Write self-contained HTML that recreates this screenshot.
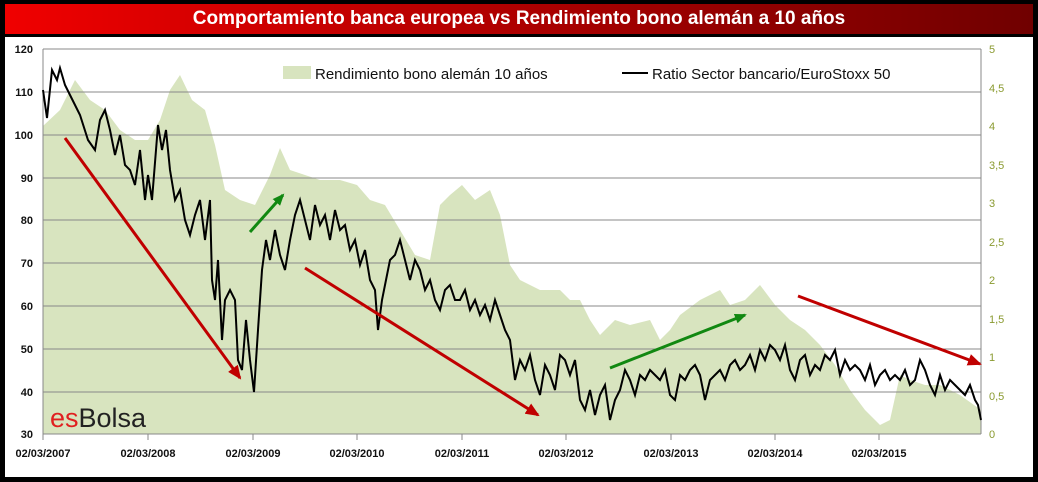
<!DOCTYPE html>
<html><head><meta charset="utf-8"><style>
body{margin:0;background:#000;}
#w{position:relative;width:1038px;height:482px;background:#000;overflow:hidden;font-family:"Liberation Sans",sans-serif;}
#t{position:absolute;left:5px;top:4px;width:1028px;height:30px;background:linear-gradient(90deg,#f00000,#a00000 60%,#700000);color:#fff;font-weight:bold;font-size:19px;text-align:center;line-height:30px;}
#c{position:absolute;left:5px;top:37px;width:1028px;height:440px;background:#fff;}
</style></head><body><div id="w">
<div id="t">Comportamiento banca europea vs Rendimiento bono alemán a 10 años</div>
<div id="c"></div>
<svg style="position:absolute;left:0;top:0" width="1038" height="482">
<defs><marker id="ar" markerWidth="8" markerHeight="8" refX="6" refY="4" orient="auto" markerUnits="userSpaceOnUse"><path d="M0,0 L12,4 L0,8z" fill="#c00000" transform="scale(1)"/></marker>
<marker id="ag" markerWidth="12" markerHeight="10" refX="10" refY="5" orient="auto" markerUnits="userSpaceOnUse"><path d="M0,0 L12,5 L0,10z" fill="#118811"/></marker>
<marker id="ar2" markerWidth="14" markerHeight="12" refX="12" refY="6" orient="auto" markerUnits="userSpaceOnUse"><path d="M0,0 L14,6 L0,12z" fill="#c00000"/></marker></defs>
<polygon fill="#d8e4bf" points="43,126 60,110 75,80 90,100 105,110 120,130 135,140 148,140 160,120 170,90 180,75 192,100 205,110 215,145 225,190 240,200 255,205 270,175 280,148 290,170 305,175 320,180 340,180 357,185 370,200 385,205 400,230 415,255 430,260 440,205 450,195 462,185 475,200 490,190 500,215 510,265 520,280 540,290 560,290 570,300 580,300 590,320 600,335 615,320 630,325 650,320 660,340 670,330 680,315 700,300 720,290 730,305 745,300 760,285 775,305 790,320 805,330 820,345 835,365 850,390 865,410 880,425 890,420 900,375 910,380 925,385 940,385 960,395 981,410 981,434 43,434"/>
<g stroke="#888" stroke-width="1">
<line x1="43" y1="49" x2="981" y2="49"/><line x1="43" y1="92" x2="981" y2="92"/><line x1="43" y1="135" x2="981" y2="135"/><line x1="43" y1="178" x2="981" y2="178"/><line x1="43" y1="220" x2="981" y2="220"/><line x1="43" y1="263" x2="981" y2="263"/><line x1="43" y1="306" x2="981" y2="306"/><line x1="43" y1="349" x2="981" y2="349"/><line x1="43" y1="392" x2="981" y2="392"/><line x1="43" y1="434" x2="981" y2="434"/>
<line x1="43" y1="49" x2="43" y2="434"/><line x1="981" y1="49" x2="981" y2="434"/>
</g>
<rect x="283" y="66" width="28" height="13" fill="#d8e4bf"/>
<text x="315" y="79" font-size="15" fill="#111">Rendimiento bono alemán 10 años</text>
<line x1="622" y1="73" x2="648" y2="73" stroke="#000" stroke-width="2"/>
<text x="652" y="79" font-size="15" fill="#111">Ratio Sector bancario/EuroStoxx 50</text>
<polyline fill="none" stroke="#000" stroke-width="2" points="43,90 47,118 52,70 57,80 60,68 65,85 70,95 75,105 80,115 88,140 95,150 100,120 105,110 110,130 115,155 120,135 125,165 130,170 135,185 140,150 145,200 148,175 152,200 158,125 162,150 166,130 170,170 175,200 180,190 185,220 190,235 195,215 200,200 205,240 210,200 212,280 215,300 218,260 222,340 225,300 230,290 235,300 238,360 242,370 246,320 250,360 254,392 258,330 262,270 266,240 270,260 275,230 280,255 285,270 290,240 295,215 300,200 305,220 310,240 315,205 320,225 325,215 330,240 335,210 340,230 345,225 350,250 355,240 360,265 365,250 370,280 375,290 378,330 382,300 386,280 390,260 395,255 400,240 405,260 410,280 415,260 420,270 425,290 430,280 435,300 440,310 445,290 450,285 455,300 460,300 465,290 470,310 475,300 480,315 485,305 490,320 495,300 500,315 505,330 510,340 515,380 520,360 525,370 530,355 535,380 540,395 545,365 550,375 555,390 560,355 565,360 570,375 575,360 580,400 585,410 590,390 595,415 600,395 605,385 610,420 615,400 620,390 625,370 630,380 635,395 640,375 645,380 650,370 655,375 660,380 665,370 670,395 675,400 680,375 685,380 690,370 695,365 700,375 705,400 710,380 715,375 720,370 725,380 730,365 735,360 740,370 745,365 750,355 755,370 760,350 765,360 770,345 775,350 780,360 785,345 790,370 795,380 800,360 805,355 810,375 815,365 820,370 825,355 830,360 835,350 840,375 845,360 850,370 855,365 860,370 865,380 870,365 875,385 880,375 885,370 890,380 895,375 900,380 905,370 910,385 915,380 920,360 925,370 930,385 935,395 940,375 945,390 950,380 955,385 960,390 965,395 970,385 975,400 978,405 981,420"/>
<g stroke-width="3" fill="none">
<line x1="65" y1="138" x2="240" y2="378" stroke="#c00000" marker-end="url(#ar2)"/>
<line x1="305" y1="268" x2="538" y2="415" stroke="#c00000" marker-end="url(#ar2)"/>
<line x1="798" y1="296" x2="980" y2="364" stroke="#c00000" marker-end="url(#ar2)"/>
<line x1="250" y1="232" x2="283" y2="195" stroke="#118811" marker-end="url(#ag)"/>
<line x1="610" y1="368" x2="745" y2="315" stroke="#118811" marker-end="url(#ag)"/>
</g>
<text x="50" y="427" font-size="27" fill="#e02020">es<tspan fill="#222">Bolsa</tspan></text>
<g font-size="11" font-weight="bold" fill="#111" text-anchor="end">
<text x="33" y="53">120</text><text x="33" y="96">110</text><text x="33" y="139">100</text><text x="33" y="182">90</text><text x="33" y="224">80</text><text x="33" y="267">70</text><text x="33" y="310">60</text><text x="33" y="353">50</text><text x="33" y="396">40</text><text x="33" y="438">30</text>
</g>
<g font-size="11" fill="#8a9a30">
<text x="989" y="53">5</text><text x="989" y="92">4,5</text><text x="989" y="130">4</text><text x="989" y="169">3,5</text><text x="989" y="207">3</text><text x="989" y="246">2,5</text><text x="989" y="284">2</text><text x="989" y="323">1,5</text><text x="989" y="361">1</text><text x="989" y="400">0,5</text><text x="989" y="438">0</text>
</g>
<g stroke="#888"><line x1="43" y1="434" x2="43" y2="440"/><line x1="148" y1="434" x2="148" y2="440"/><line x1="253" y1="434" x2="253" y2="440"/><line x1="357" y1="434" x2="357" y2="440"/><line x1="462" y1="434" x2="462" y2="440"/><line x1="566" y1="434" x2="566" y2="440"/><line x1="671" y1="434" x2="671" y2="440"/><line x1="775" y1="434" x2="775" y2="440"/><line x1="879" y1="434" x2="879" y2="440"/></g>
<g font-size="11" font-weight="bold" fill="#111" text-anchor="middle">
<text x="43" y="457">02/03/2007</text><text x="148" y="457">02/03/2008</text><text x="253" y="457">02/03/2009</text><text x="357" y="457">02/03/2010</text><text x="462" y="457">02/03/2011</text><text x="566" y="457">02/03/2012</text><text x="671" y="457">02/03/2013</text><text x="775" y="457">02/03/2014</text><text x="879" y="457">02/03/2015</text>
</g>
</svg>
</div></body></html>
